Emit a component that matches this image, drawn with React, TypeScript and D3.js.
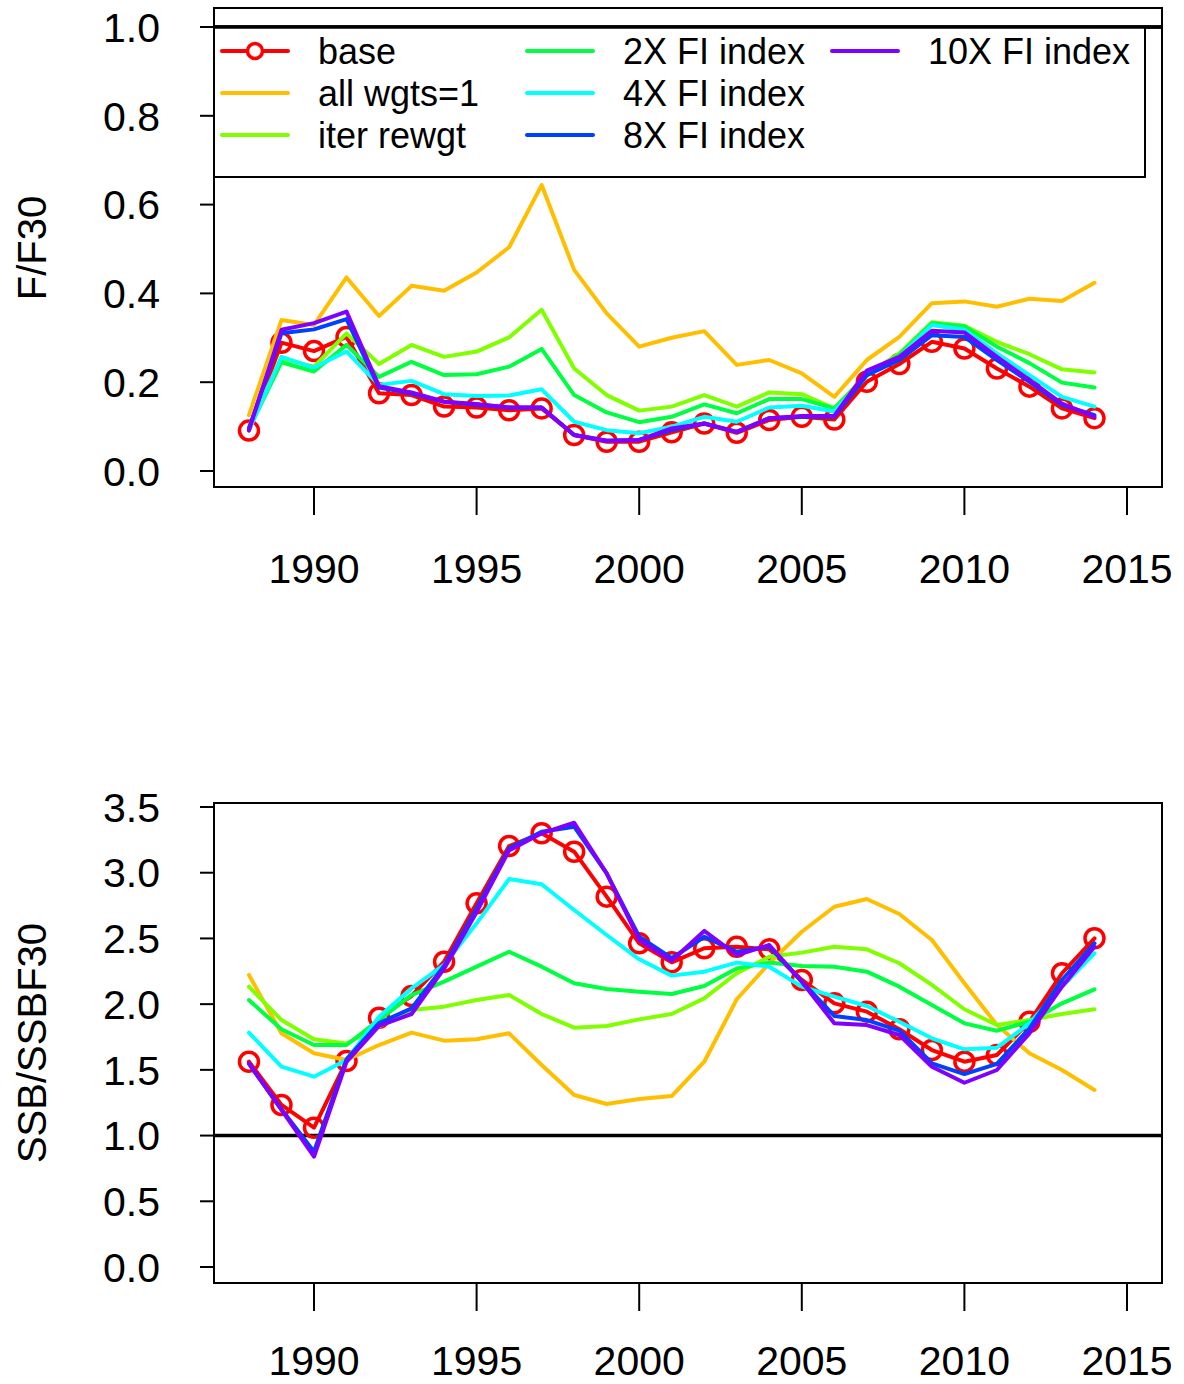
import React from "react";
import * as d3 from "d3";

// years 1988..2014
const years = [
  1988, 1989, 1990, 1991, 1992, 1993, 1994, 1995, 1996, 1997, 1998, 1999, 2000,
  2001, 2002, 2003, 2004, 2005, 2006, 2007, 2008, 2009, 2010, 2011, 2012, 2013, 2014,
];

const seriesNames = [
  "base",
  "all wgts=1",
  "iter rewgt",
  "2X FI index",
  "4X FI index",
  "8X FI index",
  "10X FI index",
];
const seriesColors = ["#FF0000", "#FFBF00", "#80FF00", "#00FF40", "#00FFFF", "#0040FF", "#8000FF"];

// F/F30
const fBase = [0.091, 0.289, 0.27, 0.302, 0.175, 0.171, 0.145, 0.143, 0.137, 0.141, 0.081, 0.066, 0.066, 0.087, 0.107, 0.086, 0.115, 0.122, 0.116, 0.201, 0.241, 0.291, 0.276, 0.231, 0.19, 0.141, 0.119];
const fAllW = [0.126, 0.34, 0.329, 0.436, 0.349, 0.417, 0.406, 0.447, 0.504, 0.644, 0.453, 0.355, 0.28, 0.3, 0.315, 0.239, 0.25, 0.22, 0.167, 0.25, 0.302, 0.378, 0.382, 0.37, 0.388, 0.383, 0.424];
const fIter = [0.1, 0.253, 0.235, 0.31, 0.241, 0.284, 0.257, 0.269, 0.301, 0.363, 0.231, 0.171, 0.136, 0.145, 0.171, 0.145, 0.177, 0.173, 0.141, 0.218, 0.265, 0.335, 0.327, 0.291, 0.263, 0.229, 0.222];
const f2X = [0.095, 0.245, 0.224, 0.284, 0.212, 0.246, 0.216, 0.218, 0.235, 0.275, 0.171, 0.132, 0.11, 0.122, 0.15, 0.13, 0.162, 0.162, 0.141, 0.215, 0.262, 0.333, 0.326, 0.28, 0.243, 0.199, 0.188];
const f4X = [0.092, 0.257, 0.233, 0.269, 0.194, 0.203, 0.173, 0.169, 0.17, 0.184, 0.111, 0.092, 0.085, 0.1, 0.122, 0.111, 0.143, 0.147, 0.134, 0.216, 0.257, 0.329, 0.318, 0.265, 0.216, 0.167, 0.145];
const f8X = [0.096, 0.31, 0.319, 0.342, 0.188, 0.175, 0.156, 0.149, 0.143, 0.143, 0.081, 0.068, 0.07, 0.092, 0.107, 0.088, 0.119, 0.122, 0.122, 0.216, 0.25, 0.306, 0.302, 0.25, 0.201, 0.149, 0.126];
const f10X = [0.092, 0.318, 0.333, 0.359, 0.191, 0.177, 0.156, 0.151, 0.143, 0.143, 0.081, 0.068, 0.07, 0.096, 0.107, 0.088, 0.119, 0.124, 0.124, 0.226, 0.257, 0.316, 0.312, 0.257, 0.205, 0.152, 0.122];

// SSB/SSBF30
const sBase = [1.562, 1.233, 1.06, 1.567, 1.897, 2.062, 2.323, 2.767, 3.203, 3.3, 3.16, 2.818, 2.463, 2.318, 2.425, 2.437, 2.417, 2.184, 2.006, 1.943, 1.809, 1.651, 1.562, 1.613, 1.866, 2.235, 2.501];
const sAllW = [2.222, 1.778, 1.626, 1.575, 1.689, 1.783, 1.722, 1.733, 1.778, 1.537, 1.309, 1.24, 1.278, 1.301, 1.562, 2.037, 2.311, 2.551, 2.741, 2.8, 2.686, 2.488, 2.159, 1.841, 1.626, 1.499, 1.347];
const sIter = [2.133, 1.879, 1.733, 1.7, 1.83, 1.955, 1.981, 2.031, 2.069, 1.925, 1.821, 1.834, 1.884, 1.925, 2.044, 2.235, 2.361, 2.392, 2.437, 2.417, 2.311, 2.146, 1.961, 1.841, 1.879, 1.925, 1.961];
const s2X = [2.031, 1.809, 1.689, 1.689, 1.88, 2.069, 2.171, 2.285, 2.399, 2.285, 2.159, 2.115, 2.095, 2.077, 2.138, 2.272, 2.316, 2.29, 2.285, 2.247, 2.133, 1.994, 1.854, 1.798, 1.866, 2.006, 2.113];
const s4X = [1.783, 1.524, 1.448, 1.575, 1.904, 2.12, 2.298, 2.615, 2.952, 2.912, 2.716, 2.526, 2.341, 2.217, 2.247, 2.316, 2.285, 2.133, 2.057, 1.986, 1.866, 1.74, 1.656, 1.669, 1.854, 2.133, 2.387];
const s8X = [1.545, 1.2, 0.877, 1.58, 1.856, 1.968, 2.29, 2.73, 3.185, 3.312, 3.35, 2.995, 2.513, 2.349, 2.513, 2.399, 2.437, 2.171, 1.91, 1.879, 1.798, 1.55, 1.468, 1.545, 1.816, 2.184, 2.463];
const s10X = [1.55, 1.195, 0.839, 1.56, 1.834, 1.925, 2.27, 2.7, 3.17, 3.3, 3.38, 2.995, 2.49, 2.33, 2.557, 2.374, 2.45, 2.171, 1.854, 1.841, 1.765, 1.524, 1.402, 1.499, 1.778, 2.133, 2.437];

const xTicks = [1990, 1995, 2000, 2005, 2010, 2015];
const fTicks = [0, 0.2, 0.4, 0.6, 0.8, 1.0];
const sTicks = [0, 0.5, 1, 1.5, 2, 2.5, 3, 3.5];

const FONT = "'Liberation Sans', Arial, Helvetica, sans-serif";

// plot region shared by both panels
const L = 214;
const R = 1162;
const x = d3.scaleLinear().domain([1990, 2015]).range([314, 1127]);

interface PanelProps {
  top: number;
  bottom: number;
  y: d3.ScaleLinear<number, number>;
  ticks: number[];
  label: string;
  series: number[][];
  labelY: number;
  xLabelOffset: number;
  children?: React.ReactNode;
}

const Panel: React.FC<PanelProps> = ({ top, bottom, y, ticks, label, series, labelY, xLabelOffset, children }) => {
  const line = d3
    .line<number>()
    .x((_, i) => x(years[i]))
    .y((d) => y(d));

  const path = (s: number[], k: number) => (
    <path
      key={k}
      d={line(s) || ""}
      fill="none"
      stroke={seriesColors[k]}
      strokeWidth={4}
      strokeLinejoin="round"
      strokeLinecap="round"
    />
  );

  return (
    <g>
      {/* reference line at 1 */}
      <line x1={L} x2={R} y1={y(1)} y2={y(1)} stroke="black" strokeWidth={3.5} />
      {/* base run first, with its open circles */}
      {path(series[0], 0)}
      {series[0].map((v, i) => (
        <circle key={i} cx={x(years[i])} cy={y(v)} r={9.5} fill="none" stroke={seriesColors[0]} strokeWidth={3.5} />
      ))}
      {series.slice(1).map((s, k) => path(s, k + 1))}
      {children}
      <rect x={L} y={top} width={R - L} height={bottom - top} fill="none" stroke="black" strokeWidth={2} />

      {/* y axis */}
      {ticks.map((t) => (
        <g key={t}>
          <line x1={L - 14} x2={L} y1={y(t)} y2={y(t)} stroke="black" strokeWidth={2} />
          <text x={160} y={y(t)} dy="0.36em" textAnchor="end" fontSize={41} fontFamily={FONT}>
            {t.toFixed(1)}
          </text>
        </g>
      ))}
      <text
        transform={`translate(46,${labelY}) rotate(-90)`}
        textAnchor="middle"
        fontSize={40}
        fontFamily={FONT}
      >
        {label}
      </text>

      {/* x axis */}
      {xTicks.map((t) => (
        <g key={t}>
          <line x1={x(t)} x2={x(t)} y1={bottom} y2={bottom + 28} stroke="black" strokeWidth={2} />
          <text x={x(t)} y={bottom + xLabelOffset} dy="0.36em" textAnchor="middle" fontSize={41} fontFamily={FONT}>
            {t}
          </text>
        </g>
      ))}
    </g>
  );
};

const Legend: React.FC = () => {
  const cols = [222, 527, 832];
  const rows = [51, 93, 135];
  return (
    <g>
      <rect x={L} y={27} width={1145 - L} height={177 - 27} fill="white" stroke="black" strokeWidth={2} />
      {seriesNames.map((name, k) => {
        const cx = cols[Math.floor(k / 3)];
        const cy = rows[k % 3];
        return (
          <g key={name}>
            <line x1={cx} x2={cx + 66} y1={cy} y2={cy} stroke={seriesColors[k]} strokeWidth={4} strokeLinecap="round" />
            {k === 0 && <circle cx={cx + 33} cy={cy} r={7.5} fill="white" stroke={seriesColors[0]} strokeWidth={3.5} />}
            <text x={cx + 96} y={cy} dy="0.36em" fontSize={36} fontFamily={FONT}>
              {name}
            </text>
          </g>
        );
      })}
      <line x1={L} x2={R} y1={27} y2={27} stroke="black" strokeWidth={3.5} />
    </g>
  );
};

export default function App() {
  const yF = d3.scaleLinear().domain([0, 1]).range([471, 27]);
  const yS = d3.scaleLinear().domain([0, 3.5]).range([1267, 807]);

  return (
    <svg
      width={1184}
      height={1384}
      style={{ position: "absolute", left: 0, top: 0, background: "white" }}
    >
      <rect width={1184} height={1384} fill="white" />
      <Panel
        top={8}
        bottom={487}
        y={yF}
        ticks={fTicks}
        label="F/F30"
        labelY={248}
        xLabelOffset={81}
        series={[fBase, fAllW, fIter, f2X, f4X, f8X, f10X]}
      >
        <Legend />
      </Panel>
      <Panel
        top={803}
        bottom={1283}
        y={yS}
        ticks={sTicks}
        label="SSB/SSBF30"
        labelY={1043}
        xLabelOffset={77}
        series={[sBase, sAllW, sIter, s2X, s4X, s8X, s10X]}
      />
    </svg>
  );
}
